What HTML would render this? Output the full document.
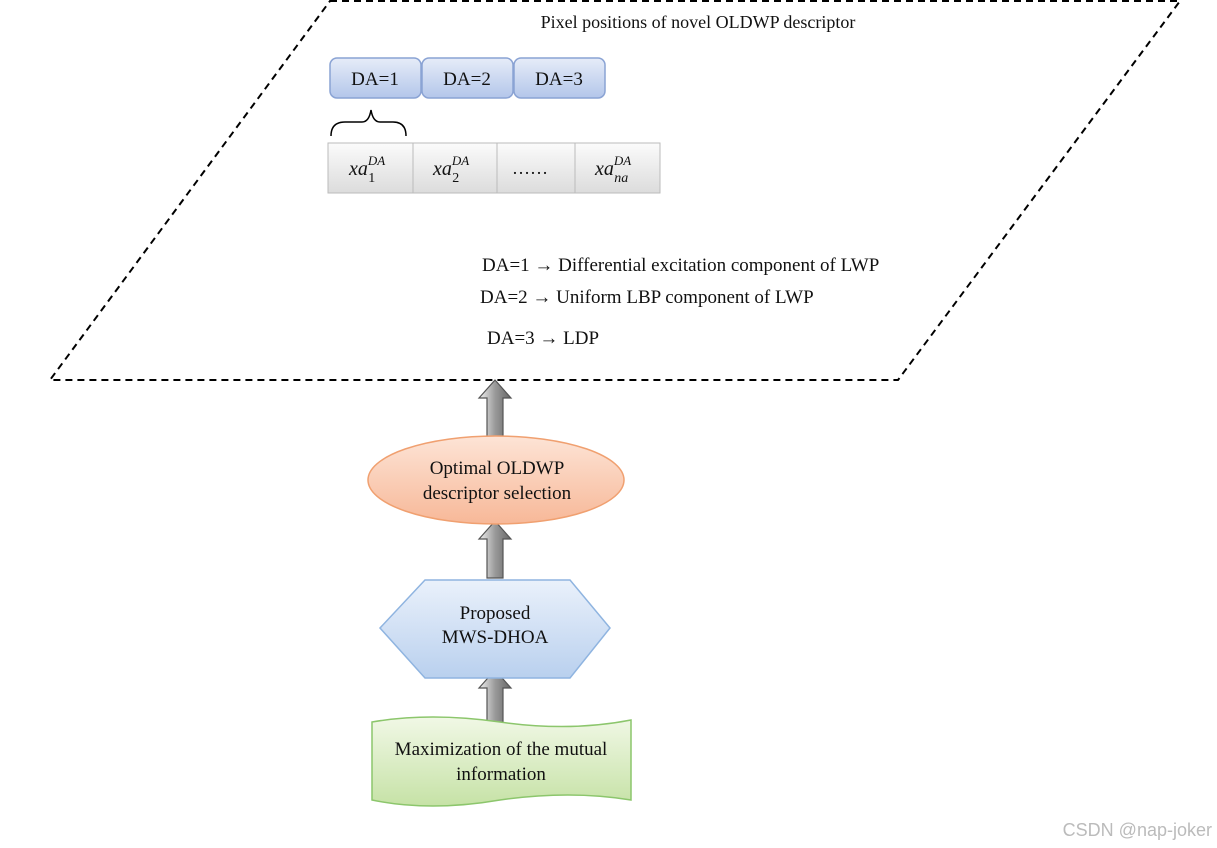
<!DOCTYPE html>
<html><head><style>body{margin:0;background:#fff}svg{display:block}text{font-family:"Liberation Serif",serif;fill:#111}</style></head><body>
<svg width="1217" height="848" viewBox="0 0 1217 848" xmlns="http://www.w3.org/2000/svg">
<defs>
<linearGradient id="bl" x1="0" y1="0" x2="0" y2="1"><stop offset="0" stop-color="#e6ecf8"/><stop offset="1" stop-color="#b3c6ea"/></linearGradient>
<linearGradient id="gr" x1="0" y1="0" x2="0" y2="1"><stop offset="0" stop-color="#fbfbfb"/><stop offset="1" stop-color="#dcdcdc"/></linearGradient>
<linearGradient id="or" x1="0" y1="0" x2="0" y2="1"><stop offset="0" stop-color="#fde4d6"/><stop offset="1" stop-color="#f7b898"/></linearGradient>
<linearGradient id="hx" x1="0" y1="0" x2="0" y2="1"><stop offset="0" stop-color="#eaf1fb"/><stop offset="1" stop-color="#b9d0ee"/></linearGradient>
<linearGradient id="gn" x1="0" y1="0" x2="0" y2="1"><stop offset="0" stop-color="#f1f8e6"/><stop offset="1" stop-color="#c6e2a6"/></linearGradient>
<linearGradient id="ar" x1="0" y1="0" x2="1" y2="0"><stop offset="0" stop-color="#f2f2f2"/><stop offset="0.5" stop-color="#9a9a9a"/><stop offset="1" stop-color="#666"/></linearGradient>
</defs>
<polygon points="330,1 1180,1 898,380 50,380" fill="none" stroke="#000" stroke-width="2" stroke-dasharray="7,5"/>
<text x="698" y="28" font-size="18" text-anchor="middle">Pixel positions of novel OLDWP descriptor</text>
<g stroke="#8aa3d4" stroke-width="1.5" fill="url(#bl)">
<rect x="330" y="58" width="91" height="40" rx="7"/><rect x="422" y="58" width="91" height="40" rx="7"/><rect x="514" y="58" width="91" height="40" rx="7"/></g>
<g font-size="19" text-anchor="middle"><text x="375" y="85">DA=1</text><text x="467" y="85">DA=2</text><text x="559" y="85">DA=3</text></g>
<path d="M331,136 Q331,122 345,122 L362,122 Q369,122 371,110 Q373,122 380,122 L393,122 Q406,122 406,136" fill="none" stroke="#000" stroke-width="1.5"/>
<g stroke="#bbb" fill="url(#gr)"><rect x="328" y="143" width="85" height="50"/><rect x="413" y="143" width="84" height="50"/><rect x="497" y="143" width="78" height="50"/><rect x="575" y="143" width="85" height="50"/></g>
<g font-size="20" font-style="italic">
<text x="349" y="175">xa<tspan font-size="13" dy="-10">DA</tspan><tspan font-size="14" font-style="normal" dx="-17" dy="17">1</tspan></text>
<text x="433" y="175">xa<tspan font-size="13" dy="-10">DA</tspan><tspan font-size="14" font-style="normal" dx="-17" dy="17">2</tspan></text>
<text x="595" y="175">xa<tspan font-size="13" dy="-10">DA</tspan><tspan font-size="14" dx="-17" dy="17">na</tspan></text></g>
<text x="512" y="174" font-size="18">……</text>
<g font-size="19"><text x="482" y="271">DA=1  → Differential excitation component of LWP</text>
<text x="480" y="303">DA=2 → Uniform LBP component of LWP</text>
<text x="487" y="344">DA=3 → LDP</text></g>
<g fill="url(#ar)" stroke="#555" stroke-width="1.2">
<polygon points="495,380 511,398 503,398 503,437 487,437 487,398 479,398"/>
<polygon points="495,521 511,539 503,539 503,578 487,578 487,539 479,539"/>
<polygon points="495,670 511,688 503,688 503,727 487,727 487,688 479,688"/></g>
<ellipse cx="496" cy="480" rx="128" ry="44" fill="url(#or)" stroke="#f0a070" stroke-width="1.5"/>
<g font-size="19" text-anchor="middle"><text x="497" y="474">Optimal OLDWP</text><text x="497" y="499">descriptor selection</text></g>
<polygon points="380,628 425,580 570,580 610,628 570,678 425,678" fill="url(#hx)" stroke="#8fb4e0" stroke-width="1.5"/>
<g font-size="19" text-anchor="middle"><text x="495" y="619">Proposed</text><text x="495" y="643">MWS-DHOA</text></g>
<path d="M372,722 Q430,712 500,722 Q570,732 631,720 L631,800 Q570,790 500,800 Q430,812 372,800 Z" fill="url(#gn)" stroke="#8cc66c" stroke-width="1.5"/>
<g font-size="19" text-anchor="middle"><text x="501" y="755">Maximization of the mutual</text><text x="501" y="780">information</text></g>
<text x="1212" y="836" font-size="18" text-anchor="end" style="font-family:'Liberation Sans',sans-serif;fill:#bbb">CSDN @nap-joker</text>
</svg>
</body></html>
